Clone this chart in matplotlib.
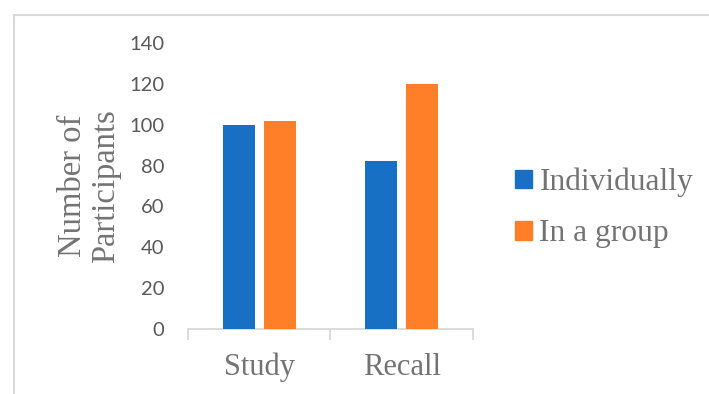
import matplotlib
matplotlib.use("Agg")
import matplotlib.pyplot as plt
from matplotlib.lines import Line2D
from matplotlib.patches import Patch
import numpy as np

categories = ["Study", "Recall"]
individually = [100, 82]
in_a_group = [102, 120]
series_names = ["Individually", "In a group"]
y_ticks = [0, 20, 40, 60, 80, 100, 120, 140]

BLUE = "#1870c5"
ORANGE = "#fe7f27"
GRAY_TICK = "#595959"
GRAY_TEXT = "#737373"
GRAY_LINE = "#d9d9d9"
SERIF = "Liberation Serif"


def main():
    fig = plt.figure(figsize=(7.09, 3.94), dpi=100)
    ax = fig.add_axes([0.265, 0.165, 0.402, 0.726])

    x = np.arange(len(categories))
    w = 0.225
    gap = 0.063
    ax.bar(x - (w + gap) / 2, individually, w, color=BLUE, zorder=3)
    ax.bar(x + (w + gap) / 2, in_a_group, w, color=ORANGE, zorder=3)

    ax.set_xlim(-0.5, len(categories) - 0.5)
    ax.set_ylim(0, 140)
    ax.set_yticks(y_ticks)
    ax.set_yticklabels([str(t) for t in y_ticks], fontfamily="Lato",
                       fontsize=14.5, color=GRAY_TICK)
    ax.tick_params(axis="y", length=0, pad=17)

    # category labels, with boundary ticks on the axis line
    ax.set_xticks(np.arange(-0.5, len(categories), 1.0))
    ax.set_xticklabels([])
    ax.tick_params(axis="x", length=8, width=1.3, color=GRAY_LINE, direction="out")
    ax.set_xticks(x, minor=True)
    ax.set_xticklabels(categories, minor=True, fontfamily=SERIF,
                       fontsize=22, color=GRAY_TEXT)
    ax.tick_params(axis="x", which="minor", length=0, pad=17)

    for side in ("top", "right", "left"):
        ax.spines[side].set_visible(False)
    ax.spines["bottom"].set_color(GRAY_LINE)
    ax.spines["bottom"].set_linewidth(1.3)

    ax.set_ylabel("Number of\nParticipants", fontfamily=SERIF, fontsize=23.5,
                  color=GRAY_TEXT, linespacing=1.1, labelpad=6)

    handles = [Patch(color=BLUE), Patch(color=ORANGE)]
    fig.legend(handles, series_names, loc="center left",
               bbox_to_anchor=(0.727, 0.472), frameon=False,
               prop={"family": SERIF, "size": 22.7}, labelcolor=GRAY_TEXT,
               handlelength=0.54, handleheight=0.54, handletextpad=0.22,
               labelspacing=0.7, borderpad=0, borderaxespad=0)

    # outer chart border (top and left visible)
    fig.add_artist(Line2D([0.02, 1.0], [0.962, 0.962], color=GRAY_LINE,
                          lw=1.5, transform=fig.transFigure))
    fig.add_artist(Line2D([0.02, 0.02], [0.0, 0.962], color=GRAY_LINE,
                          lw=1.5, transform=fig.transFigure))

    fig.savefig("out.png", dpi=100)


if __name__ == "__main__":
    main()
